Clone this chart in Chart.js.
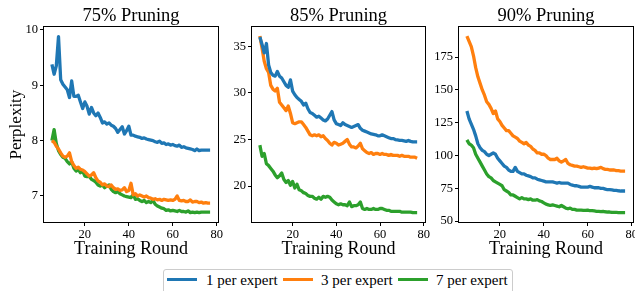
<!DOCTYPE html>
<html><head><meta charset="utf-8">
<script src="https://cdn.jsdelivr.net/npm/chart.js@4.4.0/dist/chart.umd.min.js"></script>
<style>
html,body{margin:0;padding:0;background:#fff;width:635px;height:291px;overflow:hidden;font-family:'Liberation Serif',serif;}
canvas{position:absolute;left:0;top:0;}
#legend{position:absolute;left:163px;top:269px;width:350px;height:30px;border:1px solid #cccccc;border-radius:3px;box-sizing:border-box;background:#fff;}
.item{position:absolute;top:1px;font-size:15px;line-height:18px;color:#000;white-space:nowrap;}
.sw{position:absolute;height:3px;width:30px;top:8px;}
</style></head><body>
<canvas id="c1" width="635" height="260"></canvas>
<canvas id="c2" width="635" height="260"></canvas>
<canvas id="c3" width="635" height="260"></canvas>
<div id="legend"></div>
<script>
const rounds = [5,6,7,8,9,10,11,12,13,14,15,16,17,18,19,20,21,22,23,24,25,26,27,28,29,30,31,32,33,34,35,36,37,38,39,40,41,42,43,44,45,46,47,48,49,50,51,52,53,54,55,56,57,58,59,60,61,62,63,64,65,66,67,68,69,70,71,72,73,74,75,76,77];
const xTicks = [20,40,60,80];
const seriesNames = ['1 per expert','3 per expert','7 per expert'];
const titles = ['75% Pruning','85% Pruning','90% Pruning'];
const xTitle = 'Training Round';
const yTitle = 'Perplexity';

// 75% pruning
const p75_one = [9.38,9.2,9.35,9.88,9.1,9.02,8.97,8.92,8.78,9.08,
 8.8,8.8,8.82,8.7,8.58,8.7,8.62,8.48,8.6,8.5,
 8.45,8.5,8.42,8.32,8.34,8.3,8.32,8.28,8.26,8.22,
 8.15,8.2,8.25,8.12,8.18,8.26,8.1,8.1,8.08,8.07,
 8.06,8.04,8.05,8.03,8.02,8.01,8.0,7.98,7.97,7.99,
 7.95,7.96,7.93,7.94,7.92,7.93,7.91,7.9,7.92,7.88,
 7.89,7.87,7.86,7.85,7.84,7.82,7.85,7.82,7.83,7.83,
 7.83,7.83,7.83];
const p75_three = [8.0,7.97,7.9,7.85,7.78,7.72,7.7,7.72,7.78,7.62,
 7.55,7.5,7.52,7.48,7.47,7.44,7.4,7.36,7.38,7.42,
 7.33,7.27,7.25,7.2,7.22,7.18,7.17,7.2,7.15,7.12,
 7.13,7.1,7.11,7.15,7.08,7.1,7.23,7.02,7.04,7.0,
 7.02,7.0,6.98,7.0,6.97,6.96,6.94,6.95,6.93,6.94,
 6.92,6.94,6.93,6.92,6.93,6.92,6.94,7.0,6.92,6.91,
 6.92,6.9,6.9,6.93,6.89,6.9,6.9,6.88,6.89,6.87,
 6.88,6.87,6.87];
const p75_seven = [8.0,8.2,7.95,7.82,7.75,7.7,7.68,7.62,7.58,7.62,
 7.5,7.45,7.48,7.42,7.45,7.36,7.35,7.36,7.3,7.28,
 7.25,7.2,7.18,7.2,7.15,7.18,7.2,7.12,7.08,7.06,
 7.08,7.04,7.02,7.0,6.99,6.98,6.97,7.02,6.94,6.95,
 6.92,6.9,6.92,6.88,6.9,6.88,6.92,6.85,6.82,6.8,
 6.78,6.77,6.74,6.75,6.73,6.74,6.73,6.72,6.74,6.72,
 6.72,6.71,6.73,6.7,6.71,6.7,6.71,6.7,6.71,6.71,
 6.71,6.71,6.71];
const p75_yTicks = [7,8,9,10];

// 85% pruning
const p85_one = [36.0,35.2,34.3,35.3,33.0,32.2,31.9,31.8,32.3,31.8,
 31.6,31.2,30.8,30.6,31.4,30.2,29.8,29.5,29.3,29.1,
 28.7,28.9,28.3,27.9,27.8,27.6,27.4,27.5,27.3,27.1,
 27.0,27.2,27.6,28.0,27.1,26.7,26.6,26.5,26.8,26.6,
 26.5,26.4,26.3,26.4,26.5,26.6,26.2,26.0,25.9,25.8,
 25.7,25.6,25.55,25.5,25.4,25.4,25.5,25.4,25.3,25.2,
 25.1,25.1,25.0,24.95,24.9,24.9,24.85,24.8,24.9,24.8,
 24.75,24.75,24.75];
const p85_three = [36.1,34.8,33.4,32.6,32.2,30.8,30.4,30.2,30.5,29.0,
 28.7,28.4,28.1,28.6,27.8,26.8,26.7,26.8,26.9,26.9,
 26.6,26.3,25.9,25.5,25.4,25.5,25.4,25.5,25.3,25.4,
 25.1,24.9,24.6,24.4,24.7,24.6,24.4,24.5,24.6,24.8,
 25.0,24.5,24.2,24.2,24.1,24.3,24.6,24.0,23.8,23.6,
 23.5,23.6,23.4,23.5,23.5,23.4,23.5,23.4,23.4,23.3,
 23.4,23.3,23.3,23.3,23.2,23.3,23.2,23.2,23.2,23.1,
 23.1,23.1,23.0];
const p85_seven = [24.4,23.2,23.5,22.4,22.2,21.9,21.6,21.2,20.9,21.1,
 21.4,20.7,20.4,20.6,20.1,20.5,19.8,20.2,19.6,19.5,
 19.3,19.2,19.0,18.9,18.9,18.7,18.6,18.8,18.6,18.9,
 18.8,18.9,18.8,18.5,18.3,18.1,18.0,18.1,18.0,18.0,
 17.9,18.3,17.8,17.9,17.9,18.0,18.3,17.6,17.5,17.6,
 17.5,17.5,17.6,17.5,17.5,17.6,17.6,17.5,17.4,17.4,
 17.3,17.3,17.3,17.3,17.3,17.2,17.2,17.2,17.2,17.2,
 17.15,17.15,17.15];
const p85_yTicks = [20,25,30,35];

// 90% pruning
const p90_one = [134,128,124,120,115,109,106,104,103,101,
 100,101,102,101,98,96,94,92,91,89,
 88,88,91,88,87,86,86,85,84.5,84,
 83,83,82,81.5,81,80.5,80,80,80,80,
 79.5,79,79.5,79,79,79,79,78,77.5,77,
 77,76.5,76,76,76,76,76.5,76,75.5,75.5,
 75.5,75,75,74.5,74,74,73.8,73.5,73.5,73.2,
 73,73,73];
const p90_three = [191,187,183,176,167,160,155,150,146,141,
 139,136,132,134,128,126,123,121,119,119,
 117,115,114,113,111,110,109,110,108,107,
 105,104,102,102,101,101,100,98,97,97,
 97,98,96,95,96,97,94,93,92.5,92,
 92,91.5,91,91.5,91,90.5,90.5,90,90.5,90,
 90.5,91,90,89.5,89.5,89,89,89,88.5,88.5,
 88.2,88.1,88.1];
const p90_seven = [112,109,108,106,101,98,95,92,89,86,
 84,83,81,80,79,78,77,74,73,72,
 70,70,69,68,67,68,67,67,66.5,67,
 66,66,66.5,65.5,65,64,63,62.5,62,62.5,
 62,61.5,61,62,61,60,59.5,60,59,59,
 58.5,58.5,58.5,58.3,58.2,58.5,58,58,57.8,57.5,
 57.5,57.3,57.5,57.2,57,57,56.8,56.8,56.7,56.6,
 56.6,56.6,56.6];
const p90_yTicks = [50,75,100,125,150,175];

const FONT = "'Liberation Serif', serif";
const colors = ['#1f77b4','#ff7f0e','#2ca02c'];

const framePlugin = {
  id:'frame',
  afterDatasetsDraw(chart){
    const a = chart.chartArea, c = chart.ctx;
    c.save(); c.strokeStyle = '#000'; c.lineWidth = 1;
    c.strokeRect(Math.round(a.left)-0.5, Math.round(a.top)-0.5, Math.round(a.right-a.left)+1, Math.round(a.bottom-a.top)+1);
    c.restore();
  }
};

function makeChart(id, series, yTicks, yMin, yMax, title, padL, yW, padR, showYTitle){
  const gridOpts = {display:true, drawOnChartArea:false, drawTicks:true, tickLength:4, color:'#000', lineWidth:1};
  new Chart(document.getElementById(id), {
    type:'line',
    data:{datasets: series.map((v,i)=>({
      label: seriesNames[i],
      data: rounds.map((r,j)=>({x:r, y:v[j]})),
      borderColor: colors[i], backgroundColor: colors[i],
      borderWidth: 3.3, pointRadius: 0, tension: 0, fill: false,
      borderJoinStyle:'round', borderCapStyle:'butt'
    }))},
    options:{
      responsive:false, animation:false, devicePixelRatio:1,
      layout:{padding:{left:padL, right:padR, top:0, bottom:0}},
      plugins:{
        legend:{display:false}, tooltip:{enabled:false},
        title:{display:true, text:title, fullSize:false, color:'#000',
          font:{family:FONT, size:18.5, weight:'normal'}, padding:{top:5, bottom:0}}
      },
      scales:{
        x:{type:'linear', min:1.4, max:80.6,
          afterBuildTicks(s){ s.ticks = xTicks.map(v=>({value:v})); },
          afterFit(s){ s.height = 38; s.paddingLeft = 0; s.paddingRight = 0; },
          grid:gridOpts, border:{display:false},
          ticks:{color:'#000', font:{family:FONT, size:12.5}, padding:1, maxRotation:0},
          title:{display:true, text:xTitle, color:'#000', font:{family:FONT, size:18}, padding:{top:0,bottom:0}}
        },
        y:{type:'linear', min:yMin, max:yMax,
          afterBuildTicks(s){ s.ticks = yTicks.map(v=>({value:v})); },
          afterFit(s){ s.width = yW; s.paddingTop = 0; s.paddingBottom = 0; },
          grid:gridOpts, border:{display:false},
          ticks:{color:'#000', font:{family:FONT, size:12.5}, padding:2},
          title:{display:showYTitle, text:yTitle, color:'#000', font:{family:FONT, size:17}, padding:{top:6,bottom:0}}
        }
      }
    },
    plugins:[framePlugin]
  });
}

makeChart('c1', [p75_one,p75_three,p75_seven], p75_yTicks, 6.53, 10.05, titles[0], 0, 44, 417, true);
makeChart('c2', [p85_one,p85_three,p85_seven], p85_yTicks, 16.15, 37.05, titles[1], 222, 30, 210, false);
makeChart('c3', [p90_one,p90_three,p90_seven], p90_yTicks, 49.4, 197.8, titles[2], 429, 30, 2, false);

// legend
const lg = document.getElementById('legend');
const swX = [3,119,234], txX = [42,157,272];
seriesNames.forEach((n,i)=>{
  const s = document.createElement('div'); s.className='sw'; s.style.left=swX[i]+'px'; s.style.background=colors[i]; lg.appendChild(s);
  const t = document.createElement('div'); t.className='item'; t.style.left=txX[i]+'px'; t.textContent=n; lg.appendChild(t);
});
</script>
</body></html>
